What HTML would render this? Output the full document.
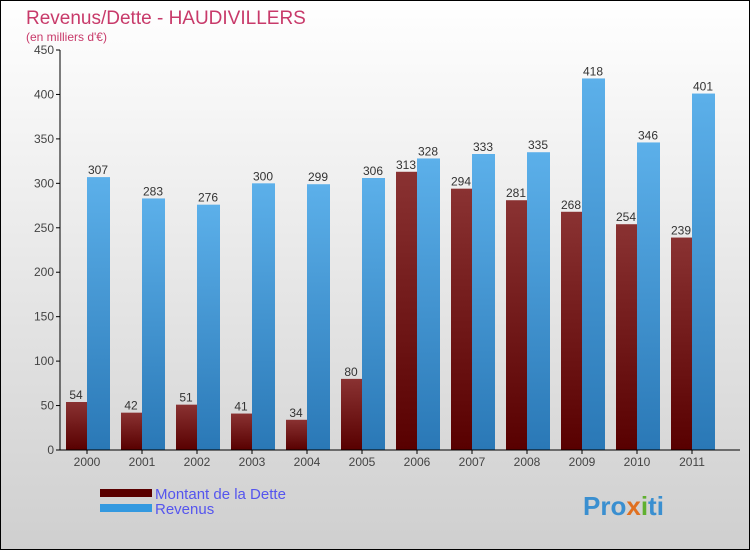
<!DOCTYPE html>
<html><head><meta charset="utf-8"><style>
body{margin:0;width:750px;height:550px;overflow:hidden;font-family:"Liberation Sans",sans-serif}
svg{display:block}
</style></head><body>
<svg width="750" height="550" xmlns="http://www.w3.org/2000/svg">
<defs>
<linearGradient id="bg" x1="0" y1="0" x2="0" y2="1"><stop offset="0" stop-color="#ffffff"/><stop offset="1" stop-color="#cfcfcf"/></linearGradient>
<linearGradient id="gd" x1="0" y1="0" x2="0" y2="1"><stop offset="0" stop-color="#8a3232"/><stop offset="1" stop-color="#580000"/></linearGradient>
<linearGradient id="gr" x1="0" y1="0" x2="0" y2="1"><stop offset="0" stop-color="#5cb0ea"/><stop offset="1" stop-color="#2a78b6"/></linearGradient>
</defs>
<rect x="0.5" y="0.5" width="749" height="549" fill="url(#bg)" stroke="#000"/>
<text x="26" y="24" font-size="19" fill="#c83a6a">Revenus/Dette - HAUDIVILLERS</text>
<text x="26" y="41" font-size="12" fill="#c83a6a">(en milliers d'€)</text>
<g id="plot"></g>
<rect x="100" y="489" width="52" height="8" fill="#5a0000"/>
<rect x="100" y="504" width="52" height="8" fill="#3399e0"/>
<text x="155" y="499" font-size="15" fill="#5555ee">Montant de la Dette</text>
<text x="155" y="514" font-size="15" fill="#5555ee">Revenus</text>
<text x="583" y="515" font-size="26" font-weight="bold" fill="#3a8fd0">Pro<tspan fill="#e07020">x</tspan><tspan fill="#60b030">i</tspan>ti</text>
</svg>
<script>
const years=["2000","2001","2002","2003","2004","2005","2006","2007","2008","2009","2010","2011"];
const dette=[54,42,51,41,34,80,313,294,281,268,254,239];
const revenus=[307,283,276,300,299,306,328,333,335,418,346,401];
const ticks=[0,50,100,150,200,250,300,350,400,450];
const NS="http://www.w3.org/2000/svg";
const g=document.getElementById('plot');
const x0=60,y0=450,ppu=400/450,gw=55;
const y=v=>y0-v*ppu;
function mk(t,a,p){const e=document.createElementNS(NS,t);for(const k in a)e.setAttribute(k,a[k]);(p||g).appendChild(e);return e;}
ticks.forEach(v=>{
 const l=mk('line',{x1:x0-4,x2:x0,y1:y(v),y2:y(v),stroke:'#000'});
 
 
 const t=mk('text',{x:x0-6,y:y(v)+4,'text-anchor':'end','font-size':12,fill:'#444'});
 
 
 t.textContent=v;
});
years.forEach((yr,i)=>{
 const gx=x0+gw*i+6;
 const bd=mk('rect',{x:gx,y:y(dette[i]),width:21,height:dette[i]*ppu,fill:'url(#gd)'});
 
 
 const br=mk('rect',{x:gx+21,y:y(revenus[i]),width:23,height:revenus[i]*ppu,fill:'url(#gr)'});
 
 
 const ld=mk('text',{x:gx+10,y:y(dette[i])-3,'text-anchor':'middle','font-size':12,fill:'#333'});
 
 
 ld.textContent=dette[i];
 const lr=mk('text',{x:gx+32,y:y(revenus[i])-3,'text-anchor':'middle','font-size':12,fill:'#333'});
 
 
 lr.textContent=revenus[i];
 const xl=mk('text',{x:gx+21,y:y0+16,'text-anchor':'middle','font-size':12,fill:'#444'});
 
 
 xl.textContent=yr;
 const xt=mk('line',{x1:gx+21,x2:gx+21,y1:y0,y2:y0+4,stroke:'#000'});
 
 
});
const ya=mk('line',{x1:x0,x2:x0,y1:y(450),y2:y0,stroke:'#000'});


const xa=mk('line',{x1:x0,x2:740,y1:y0,y2:y0,stroke:'#000'});


</script>
</body></html>
